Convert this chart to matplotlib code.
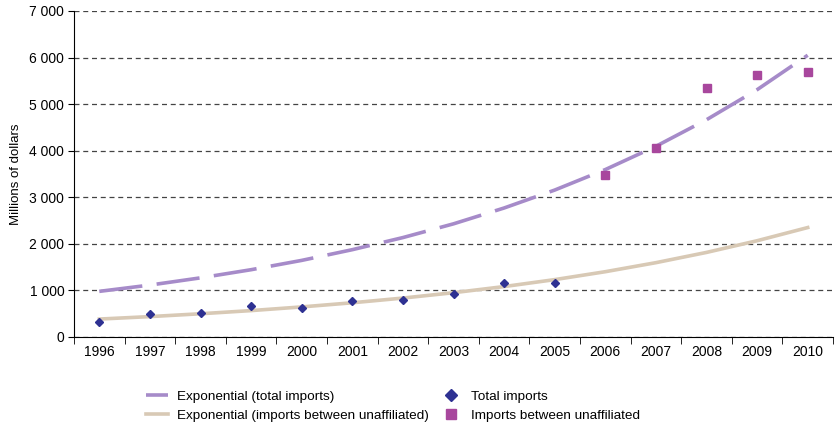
import matplotlib.pyplot as plt
from matplotlib.ticker import FuncFormatter, FixedLocator

plt.rcParams['font.family'] = ['Liberation Sans', 'DejaVu Sans']

years = list(range(1996, 2011))

# trend lines
trend_total = [980, 1115, 1270, 1445, 1645, 1875, 2135, 2430, 2770, 3155,
               3595, 4095, 4665, 5310, 6050]
trend_unaff = [385, 438, 499, 567, 646, 735, 836, 951, 1083, 1232,
               1402, 1596, 1816, 2067, 2350]

total_years = list(range(1996, 2006))
total_imports = [330, 490, 510, 665, 630, 770, 800, 920, 1160, 1165]

unaff_years = list(range(2006, 2011))
unaff_imports = [3480, 4050, 5340, 5630, 5690]


def graph():
    fig = plt.figure(figsize=(8.36, 4.28), dpi=100)
    ax = fig.add_axes([74 / 836, 91 / 428, 759 / 836, 326 / 428])

    ax.plot(years, trend_total, color='#a68bc9', lw=2.6,
            linestyle=(0, (12, 4)), label='Exponential (total imports)', zorder=3)
    ax.plot(years, trend_unaff, color='#d8c9b5', lw=2.6,
            label='Exponential (imports between unaffiliated)', zorder=3)
    ax.plot(total_years, total_imports, 'D', color='#2e3192', ms=4.5,
            label='Total imports', zorder=4)
    ax.plot(unaff_years, unaff_imports, 's', color='#a8479d', ms=6,
            label='Imports between unaffiliated', zorder=4)

    ax.set_xlim(1995.5, 2010.5)
    ax.set_ylim(0, 7000)
    ax.set_yticks(range(0, 7001, 1000))
    ax.yaxis.set_major_formatter(FuncFormatter(lambda v, p: f'{int(v):,}'.replace(',', ' ')))
    ax.set_xticks(years)
    ax.set_xticklabels([str(y) for y in years])
    ax.xaxis.set_minor_locator(FixedLocator([y - 0.5 for y in range(1996, 2012)]))
    ax.tick_params(axis='x', which='major', length=0, labelsize=10, pad=6)
    ax.tick_params(axis='x', which='minor', length=5, direction='out')
    ax.tick_params(axis='y', length=4, labelsize=10, pad=3)

    ax.grid(axis='y', color='#444444', linestyle=(0, (4, 3)), lw=0.9)
    ax.set_axisbelow(True)
    for s in ['top', 'right']:
        ax.spines[s].set_visible(False)
    ax.set_ylabel('Millions of dollars', fontsize=9.5, labelpad=5)

    fig.legend(loc='lower left', bbox_to_anchor=(134 / 836, -0.014), ncol=2,
               frameon=False, fontsize=9.7, handlelength=1.6, handletextpad=0.7,
               columnspacing=0.8, labelspacing=0.5, markerscale=1.3)
    plt.savefig('out.png')
    plt.close()


if __name__ == "__main__":
    graph()
